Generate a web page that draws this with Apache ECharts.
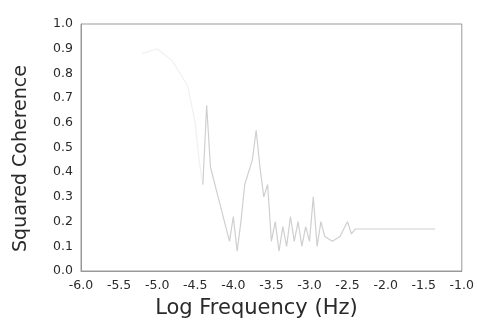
<!DOCTYPE html>
<html><head><meta charset="utf-8">
<script src="https://cdn.jsdelivr.net/npm/echarts@6/dist/echarts.min.js"></script>
<style>html,body{margin:0;padding:0;background:#fff}#c{width:477px;height:328px}</style>
</head><body><div id="c"></div>
<script>
const logFreq = [-5.2,-5.0,-4.8,-4.6,-4.5,-4.45,-4.4,-4.35,-4.3,-4.2,-4.05,-4.0,-3.95,-3.9,-3.85,-3.75,-3.7,-3.65,-3.6,-3.55,-3.5,-3.45,-3.4,-3.35,-3.3,-3.25,-3.2,-3.15,-3.1,-3.05,-3.0,-2.95,-2.9,-2.85,-2.8,-2.7,-2.6,-2.5,-2.45,-2.4,-2.2,-2.0,-1.8,-1.6,-1.35];
const coherence = [0.88,0.9,0.85,0.75,0.6,0.45,0.35,0.67,0.42,0.3,0.12,0.22,0.08,0.2,0.35,0.45,0.57,0.42,0.3,0.35,0.12,0.2,0.08,0.18,0.1,0.22,0.12,0.2,0.1,0.18,0.12,0.3,0.1,0.2,0.14,0.12,0.14,0.2,0.15,0.17,0.17,0.17,0.17,0.17,0.17];
const xTicks = [-6.0,-5.5,-5.0,-4.5,-4.0,-3.5,-3.0,-2.5,-2.0,-1.5,-1.0];
const yTicks = [0.0,0.1,0.2,0.3,0.4,0.5,0.6,0.7,0.8,0.9,1.0];

const pts = logFreq.map((x,i)=>[x,coherence[i]]);
const split = 6;
const chart = echarts.init(document.getElementById('c'));
const txt = '#2a2a2a';
const ff = 'DejaVu Sans';
chart.setOption({
  animation:false,
  grid:{left:81,right:13,top:24,bottom:57,show:true,borderColor:'#999',borderWidth:1},
  xAxis:{type:'value',min:-6,max:-1,interval:0.5,
    name:'Log Frequency (Hz)',nameLocation:'middle',nameGap:27,
    nameTextStyle:{fontFamily:ff,fontSize:21,color:txt,padding:[0,30,0,0]},
    axisLine:{show:true,lineStyle:{color:'#999',width:1}},
    axisTick:{show:false},splitLine:{show:false},
    axisLabel:{fontFamily:ff,fontSize:12.5,color:txt,margin:8,
      formatter:v=>xTicks.find(t=>Math.abs(t-v)<1e-6).toFixed(1)}},
  yAxis:{type:'value',min:0,max:1,interval:0.1,
    name:'Squared Coherence',nameLocation:'middle',nameGap:50,
    nameTextStyle:{fontFamily:ff,fontSize:19,color:txt,padding:[0,22,0,0]},
    axisLine:{show:true,lineStyle:{color:'#999',width:1}},
    axisTick:{show:false},splitLine:{show:false},
    axisLabel:{fontFamily:ff,fontSize:12.5,color:txt,margin:8,
      formatter:v=>yTicks.find(t=>Math.abs(t-v)<1e-6).toFixed(1)}},
  series:[
    {type:'line',data:pts.slice(0,split+1),symbol:'none',lineStyle:{width:1.2,color:'#f0f0f0'}},
    {type:'line',data:pts.slice(split),symbol:'none',lineStyle:{width:1.2,color:'#cfcfcf'}}
  ]
});
</script></body></html>
